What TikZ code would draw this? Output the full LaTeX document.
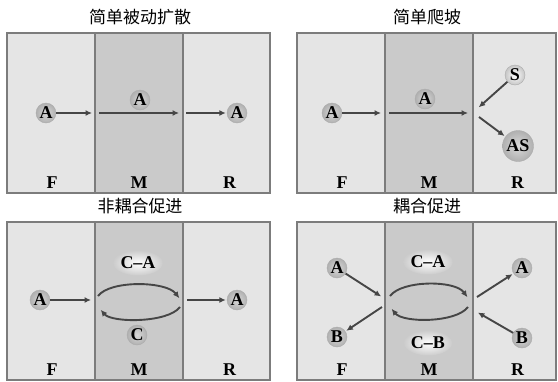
\documentclass[tikz,border=0pt]{standalone}
\usepackage{fontspec}
\setmainfont{Liberation Serif}
\newfontfamily\cjk{Noto Sans CJK SC}
\usetikzlibrary{arrows.meta,shapes.geometric}
\definecolor{zoneside}{HTML}{E5E5E5}
\definecolor{zonemid}{HTML}{CACACA}
\definecolor{wallgray}{HTML}{7C7C7C}
\definecolor{arrowgray}{HTML}{464646}
\tikzset{
    every node/.style={font=\bfseries\fontsize{18}{18}\selectfont},
    title/.style={font=\cjk\fontsize{17}{17}\selectfont},
    wall/.style={draw=wallgray,line width=2.4pt},
    mol/.style={circle,inner sep=0pt,minimum size=20pt,draw=gray!65,thin,
        shading=radial,inner color=gray!30,outer color=gray!62},
    bigmol/.style={mol,minimum size=31pt},
    lightmol/.style={mol,inner color=white,outer color=gray!45},
    carrier/.style={ellipse,inner sep=0pt,minimum width=44pt,minimum height=25pt,
        shading=radial,inner color=white,outer color=gray!40},
    flow/.style={draw=arrowgray,line width=1.9pt,-{Latex[length=6.5pt,width=6pt]},shorten >=1pt}
}
\begin{document}
\begin{tikzpicture}[x=1pt,y=-1pt]
    \useasboundingbox (0,0) rectangle (558,381);
    % four panels F | M | R
    \foreach \xa/\xb/\xc/\xd/\ya/\yb/\n in {7/95/183/270/33/193/1,297/385/473/556/33/193/2,
        7/95/183/270/222/380/3,297/385/473/556/222/380/4}{
        \fill[zoneside] (\xa,\ya) rectangle (\xd,\yb);
        \fill[zonemid] (\xb,\ya) rectangle (\xc,\yb);
        \draw[wall] (\xa,\ya) rectangle (\xd,\yb) (\xb,\ya) -- (\xb,\yb) (\xc,\ya) -- (\xc,\yb);
        \node (F\n) at ({(\xa+\xb)/2+1},{\yb-10}) {F};
        \node (M\n) at ({(\xb+\xc)/2},{\yb-10}) {M};
        \node (R\n) at ({(\xc+\xd)/2+3},{\yb-10}) {R};
    }
    \node[title] (t1) at (140,17) {简单被动扩散};
    \node[title] (t2) at (427,17) {简单爬坡};
    \node[title] (t3) at (140,206) {非耦合促进};
    \node[title] (t4) at (427,206) {耦合促进};
    % simple passive diffusion
    \node[mol] (a1f) at (46,113) {A};
    \node[mol] (a1m) at (140,100) {A};
    \node[mol] (a1r) at (237,113) {A};
    \coordinate (w1a) at (93,113);
    \coordinate (w1b) at (99,113);
    \coordinate (w1c) at (180,113);
    \coordinate (w1d) at (186,113);
    \draw[flow] (a1f) -- (w1a);
    \draw[flow] (w1b) -- (w1c);
    \draw[flow] (w1d) -- (a1r);
    % simple uphill
    \node[mol] (a2f) at (332,113) {A};
    \node[mol] (a2m) at (425,99) {A};
    \node[lightmol] (s2) at (515,75) {S};
    \node[bigmol] (as2) at (518,146) {AS};
    \coordinate (w2a) at (382,113);
    \coordinate (w2b) at (389,113);
    \coordinate (w2c) at (469,113);
    \coordinate (w2d) at (478,108);
    \coordinate (w2e) at (479,117);
    \draw[flow] (a2f) -- (w2a);
    \draw[flow] (w2b) -- (w2c);
    \draw[flow] (s2) -- (w2d);
    \draw[flow] (w2e) -- (as2);
    % uncoupled facilitated
    \node[mol] (a3f) at (40,300) {A};
    \node[carrier] (ca3) at (138,263) {C–A};
    \node[mol] (c3) at (137,335) {C};
    \node[mol] (a3r) at (237,300) {A};
    \coordinate (w3a) at (92,300);
    \coordinate (w3b) at (187,300);
    \coordinate (l3a) at (98,296);
    \coordinate (l3b) at (180,299);
    \coordinate (l3c) at (180,307);
    \coordinate (l3d) at (100,309);
    \draw[flow] (a3f) -- (w3a);
    \draw[flow] (w3b) -- (a3r);
    \draw[flow] (l3a) .. controls (110,280) and (166,281) .. (l3b);
    \draw[flow] (l3c) .. controls (168,323) and (112,323) .. (l3d);
    % coupled facilitated
    \node[mol] (a4f) at (337,268) {A};
    \node[mol] (b4f) at (337,337) {B};
    \node[carrier] (ca4) at (428,262) {C–A};
    \node[carrier] (cb4) at (428,343) {C–B};
    \node[mol] (a4r) at (522,268) {A};
    \node[mol] (b4r) at (522,338) {B};
    \coordinate (w4a) at (382,297);
    \coordinate (w4b) at (382,307);
    \coordinate (w4c) at (477,297);
    \coordinate (w4d) at (477,312);
    \coordinate (l4a) at (390,296);
    \coordinate (l4b) at (468,298);
    \coordinate (l4c) at (468,307);
    \coordinate (l4d) at (391,308);
    \draw[flow] (a4f) -- (w4a);
    \draw[flow] (w4b) -- (b4f);
    \draw[flow] (w4c) -- (a4r);
    \draw[flow] (b4r) -- (w4d);
    \draw[flow] (l4a) .. controls (402,280) and (455,280) .. (l4b);
    \draw[flow] (l4c) .. controls (456,323) and (403,323) .. (l4d);
\end{tikzpicture}
\end{document}
